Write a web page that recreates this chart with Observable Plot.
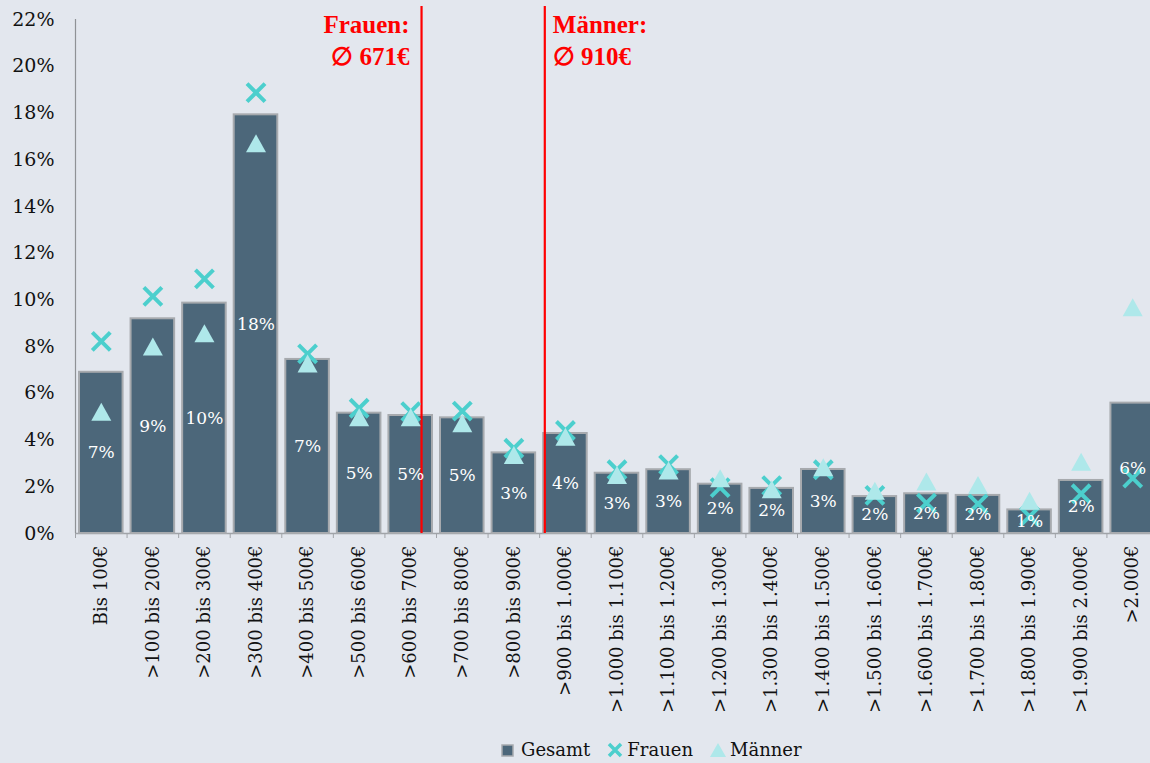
<!DOCTYPE html>
<html>
<head>
<meta charset="utf-8">
<script src="https://cdn.jsdelivr.net/npm/d3@7"></script>
<script src="https://cdn.jsdelivr.net/npm/@observablehq/plot@0.6"></script>
<style>
  html, body { margin: 0; padding: 0; background: #e3e7ee; overflow: hidden; }
  #wrap { position: relative; width: 1150px; height: 763px; }
  #legend { position: absolute; left: 500px; top: 739px; display: flex; align-items: center;
    font-family: "DejaVu Serif", serif; font-size: 18px; color: #111; white-space: nowrap; }
  #legend .item { display: flex; align-items: center; margin-right: 16px; }
  #legend svg { margin-right: 3px; }
</style>
</head>
<body>
<div id="wrap">
  <div id="chart"></div>
  <div id="legend"></div>
</div>
<script>
// ---- data ----
const categories = ["Bis 100€", ">100 bis 200€", ">200 bis 300€", ">300 bis 400€", ">400 bis 500€",
  ">500 bis 600€", ">600 bis 700€", ">700 bis 800€", ">800 bis 900€", ">900 bis 1.000€",
  ">1.000 bis 1.100€", ">1.100 bis 1.200€", ">1.200 bis 1.300€", ">1.300 bis 1.400€", ">1.400 bis 1.500€",
  ">1.500 bis 1.600€", ">1.600 bis 1.700€", ">1.700 bis 1.800€", ">1.800 bis 1.900€", ">1.900 bis 2.000€",
  ">2.000€"];
const binWidthEuro = 100;
const gesamt  = [6.9, 9.19, 9.86, 17.92, 7.45, 5.15, 5.05, 4.95, 3.45, 4.28, 2.58, 2.73, 2.11, 1.93, 2.74, 1.58, 1.70, 1.63, 1.01, 2.27, 5.58];
const frauen  = [8.22, 10.15, 10.9, 18.87, 7.69, 5.36, 5.22, 5.24, 3.65, 4.41, 2.73, 2.95, 1.96, 2.05, 2.73, 1.63, 1.30, 1.27, 0.73, 1.70, 2.37];
const maenner = [5.19, 7.98, 8.55, 16.68, 7.26, 4.95, 4.95, 4.70, 3.34, 4.12, 2.48, 2.67, 2.34, 1.87, 2.81, 1.81, 2.20, 2.05, 1.38, 3.05, 9.66];
const yTicks = [0, 2, 4, 6, 8, 10, 12, 14, 16, 18, 20, 22];
const avgFrauen = {value: 671, text: "Frauen:\n∅ 671€"};
const avgMaenner = {value: 910, text: "Männer:\n∅ 910€"};
const seriesNames = ["Gesamt", "Frauen", "Männer"];

// ---- colours ----
const cBar = "#4c677a", cBarStroke = "#a7aaae", cF = "#4ccfcd", cM = "#aee8ea", cRed = "#ff0000";

const rows = categories.map((c, i) => ({
  cat: c, lo: i * binWidthEuro, hi: (i + 1) * binWidthEuro, mid: (i + 0.5) * binWidthEuro,
  gesamt: gesamt[i], frauen: frauen[i], maenner: maenner[i],
  label: Math.round(gesamt[i]) + "%"
}));
const bounds = d3.range(0, categories.length + 1).map(i => i * binWidthEuro);
const centers = rows.map(d => d.mid);

const timesSymbol = { draw(ctx, size) { const r = Math.sqrt(size / Math.PI) * 0.9;
  ctx.moveTo(-r, -r); ctx.lineTo(r, r); ctx.moveTo(r, -r); ctx.lineTo(-r, r); } };
const triSymbol = { draw(ctx, size) { const r = Math.sqrt(size / Math.PI);
  ctx.moveTo(0, -r * 0.95); ctx.lineTo(r, r * 0.85); ctx.lineTo(-r, r * 0.85); ctx.closePath(); } };

const annoStyle = { x: "value", text: "text", frameAnchor: "top", lineAnchor: "top", dy: 4,
  fontFamily: "Liberation Serif, serif", fontWeight: "bold", fontSize: 25, lineHeight: 1.28, fill: cRed };

const chart = Plot.plot({
  width: 1150, height: 733,
  marginLeft: 75, marginRight: -8, marginTop: 6, marginBottom: 200,
  insetTop: 13,
  style: { background: "transparent", fontFamily: "DejaVu Serif, serif", overflow: "visible" },
  x: { domain: [0, categories.length * binWidthEuro], axis: null },
  y: { domain: [0, 22], axis: null },
  marks: [
    Plot.ruleY([0], { stroke: "#a0a3a8", strokeWidth: 1.5 }),
    Plot.axisX({ ticks: bounds, tickSize: 5, tickFormat: () => "", stroke: "#a0a3a8" }),
    Plot.axisX({ ticks: centers, tickSize: 0, tickPadding: 12, tickRotate: -90,
      tickFormat: d => categories[Math.round((d - binWidthEuro / 2) / binWidthEuro)],
      fontSize: 18, fill: "#111" }),
    Plot.axisY({ ticks: yTicks, tickSize: 0, tickPadding: 21, tickFormat: d => d + "%", fontSize: 19, fill: "#111" }),
    Plot.ruleX([0], { y1: 0, y2: 22, stroke: "#8f9296", strokeWidth: 1.2 }),
    Plot.rectY(rows, { x1: "lo", x2: "hi", y: "gesamt", fill: cBar, stroke: cBarStroke, strokeWidth: 2,
      insetLeft: 4, insetRight: 4 }),
    Plot.ruleX([avgFrauen, avgMaenner], { x: "value", stroke: cRed, strokeWidth: 2.2 }),
    Plot.text([avgFrauen], { ...annoStyle, textAnchor: "end", dx: -12 }),
    Plot.text([avgMaenner], { ...annoStyle, textAnchor: "start", dx: 8 }),
    Plot.dot(rows, { x: "mid", y: "frauen", symbol: timesSymbol, r: 10, stroke: cF, strokeWidth: 4, fill: "none" }),
    Plot.dot(rows, { x: "mid", y: "maenner", symbol: triSymbol, r: 10, fill: cM, stroke: "none" }),
    Plot.text(rows, { x: "mid", y: d => d.gesamt / 2, text: "label", fill: "white", fontSize: 17 })
  ]
});
document.getElementById("chart").appendChild(chart);

// ---- legend ----
const legend = d3.select("#legend");
const icons = {
  "Gesamt": s => { s.append("rect").attr("x", 2).attr("y", 4).attr("width", 11).attr("height", 11)
      .attr("fill", cBar).attr("stroke", cBarStroke).attr("stroke-width", 1.5); },
  "Frauen": s => { s.append("path").attr("d", "M3,3L15,15M15,3L3,15").attr("stroke", cF).attr("stroke-width", 3.5); },
  "Männer": s => { s.append("path").attr("d", "M9,2L17,16L1,16Z").attr("fill", cM); }
};
seriesNames.forEach(n => {
  const item = legend.append("div").attr("class", "item");
  const s = item.append("svg").attr("width", 18).attr("height", 18);
  icons[n](s);
  item.append("span").text(n);
});
</script>
</body>
</html>
